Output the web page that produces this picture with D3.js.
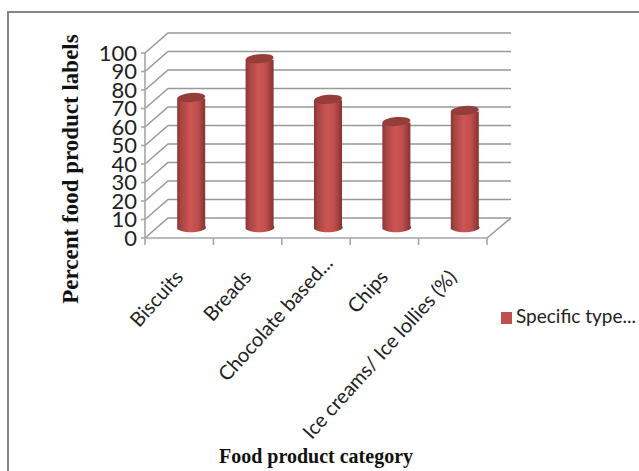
<!DOCTYPE html>
<html>
<head>
<meta charset="utf-8">
<script src="https://cdn.jsdelivr.net/npm/d3@7"></script>
<style>
html,body{margin:0;padding:0;background:#fff;}
svg{display:block;}
</style>
</head>
<body>
<svg id="chart" width="639" height="471"></svg>
<script>
const categories = ["Biscuits", "Breads", "Chocolate based...", "Chips", "Ice creams/ Ice lollies (%)"];
const values = [70, 91, 69, 57, 63];
const yTicks = d3.range(0, 101, 10);
const seriesName = "Specific type...";
const yTitle = "Percent food product labels";
const xTitle = "Food product category";

const svg = d3.select("#chart");
const sans = "Lato, 'Open Sans', sans-serif";
const serif = "'Liberation Serif', serif";

// Front plane of the 3-D box, plus the depth offset to the back wall
const x = d3.scaleBand().domain(categories).range([145, 487]);
const y = d3.scaleLinear().domain([0, 100]).range([238, 53]);
const depth = {dx: 23, dy: -20};
const barOffset = {dx: 12, dy: -10};
const barWidth = 28;
const capRy = 4.5;

// Chart frame
svg.append("path").attr("d", "M8,471V12H639")
  .attr("fill", "none").attr("stroke", "#858585").attr("stroke-width", 2);

// Cylinder shading
const defs = svg.append("defs");
const grad = defs.append("linearGradient").attr("id", "cyl");
[[0, "#8a3432"], [0.12, "#a54442"], [0.45, "#cd5654"], [0.7, "#c04f4d"], [1, "#7f302e"]]
  .forEach(([o, c]) => grad.append("stop").attr("offset", o).attr("stop-color", c));

// Gridlines on the back wall and the side wall
const grid = svg.append("g").attr("fill", "none").attr("stroke", "#989898").attr("stroke-width", 1.5);
yTicks.forEach(t => {
  grid.append("path").attr("d", d3.line()([
    [x.range()[0], y(t)],
    [x.range()[0] + depth.dx, y(t) + depth.dy],
    [x.range()[1] + depth.dx + 1, y(t) + depth.dy]
  ]));
});

// Floor edge on the right
grid.append("path").attr("d", d3.line()([
  [x.range()[1], y(0)],
  [x.range()[1] + depth.dx + 1, y(0) + depth.dy]
]));

// Front axes with tick marks
const axes = svg.append("g").attr("fill", "none").attr("stroke", "#a6a6a6").attr("stroke-width", 1.6);
axes.append("path").attr("d", d3.line()([[x.range()[0], y(100)], [x.range()[0], y(0)], [x.range()[1], y(0)]]));
yTicks.forEach(t => {
  axes.append("path").attr("d", d3.line()([[x.range()[0] - 4, y(t)], [x.range()[0], y(t)]]));
});
const edges = categories.map(c => x(c)).concat([x.range()[1]]);
edges.forEach(e => {
  axes.append("path").attr("d", d3.line()([[e, y(0)], [e, y(0) + 7]]));
});

// Y tick labels
svg.append("g").selectAll("text").data(yTicks).join("text")
  .attr("x", 137).attr("y", d => y(d) + 7.5)
  .attr("text-anchor", "end")
  .attr("font-family", sans).attr("font-size", 22).attr("fill", "#222")
  .text(d => d);

// Cylindrical bars
const bars = svg.append("g").selectAll("g").data(categories).join("g");
bars.each(function(c, i) {
  const g = d3.select(this);
  const cx = x(c) + x.bandwidth() / 2 + barOffset.dx;
  const rx = barWidth / 2;
  const yBase = y(0) + barOffset.dy;
  const yTop = y(values[i]) + barOffset.dy;
  g.append("path")
    .attr("d", `M${cx - rx},${yTop}V${yBase + 1}A${rx},${capRy} 0 0 0 ${cx + rx},${yBase - 2}V${yTop}Z`)
    .attr("fill", "url(#cyl)");
  g.append("ellipse")
    .attr("cx", cx).attr("cy", yTop - 1)
    .attr("rx", rx).attr("ry", capRy)
    .attr("transform", `rotate(-5 ${cx} ${yTop - 1})`)
    .attr("fill", "#963c3a");
});

// Rotated category labels; the truncated label sits further along its slant
const labelShift = c => c.endsWith("...") ? [13, -14] : [0, 0];
svg.append("g").selectAll("text").data(categories).join("text")
  .attr("transform", c => {
    const [sx, sy] = labelShift(c);
    return `translate(${x(c) + x.bandwidth() / 2 + 5 + sx},${y(0) + 40 + sy}) rotate(-48)`;
  })
  .attr("text-anchor", "end")
  .attr("font-family", sans).attr("font-size", 20).attr("fill", "#222")
  .text(c => c);

// Axis titles
svg.append("text")
  .attr("transform", "translate(78,169) rotate(-90)")
  .attr("text-anchor", "middle")
  .attr("font-family", serif).attr("font-weight", "bold").attr("font-size", 23).attr("fill", "#111")
  .text(yTitle);
svg.append("text")
  .attr("x", 316).attr("y", 463)
  .attr("text-anchor", "middle")
  .attr("font-family", serif).attr("font-weight", "bold").attr("font-size", 20).attr("fill", "#111")
  .text(xTitle);

// Legend
svg.append("rect").attr("x", 501).attr("y", 312).attr("width", 11).attr("height", 12).attr("fill", "#c0504d");
svg.append("text")
  .attr("x", 516).attr("y", 323)
  .attr("font-family", sans).attr("font-size", 19).attr("fill", "#222")
  .text(seriesName);
</script>
</body>
</html>
